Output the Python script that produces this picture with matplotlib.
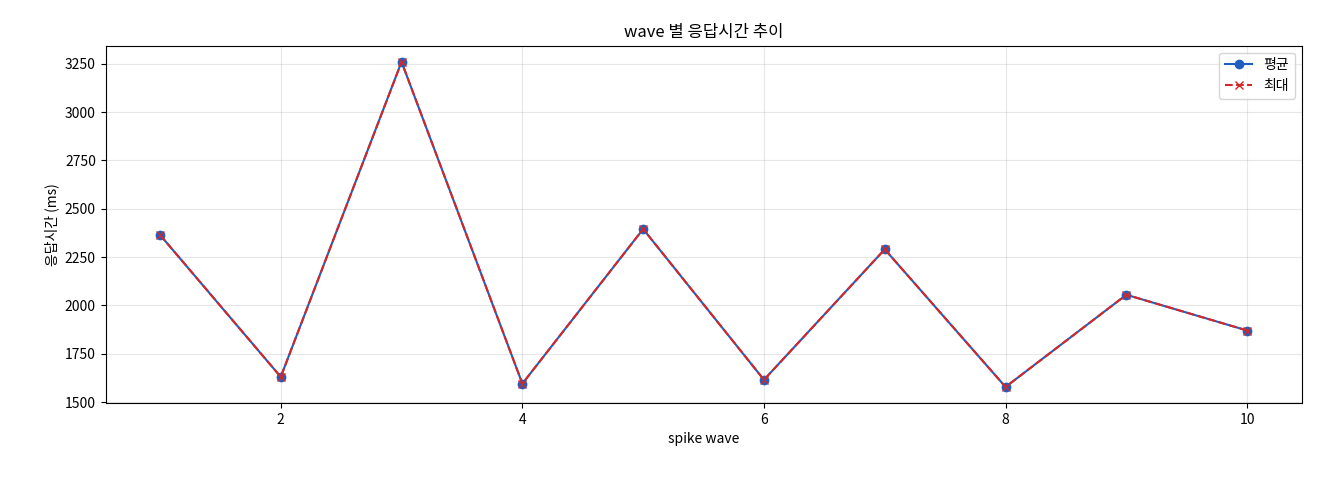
import matplotlib
matplotlib.use("Agg")
import matplotlib.pyplot as plt

plt.rcParams['font.family'] = ['Noto Sans CJK KR', 'DejaVu Sans']

waves = [1, 2, 3, 4, 5, 6, 7, 8, 9, 10]
avg = [2365, 1630, 3260, 1595, 2395, 1615, 2290, 1578, 2055, 1870]
mx = [2365, 1630, 3260, 1595, 2395, 1615, 2290, 1578, 2055, 1870]

fig, ax = plt.subplots(figsize=(13.2, 4.8), dpi=100)
ax.plot(waves, avg, marker='o', color='#1f5fbf', label='평균', markersize=6)
ax.plot(waves, mx, marker='x', linestyle='--', color='#d62728', label='최대', markersize=6)
ax.set_title('wave 별 응답시간 추이')
ax.set_xlabel('spike wave')
ax.set_ylabel('응답시간 (ms)')
ax.grid(True, alpha=0.3)
ax.legend(loc='upper right')
fig.subplots_adjust(left=0.08, right=0.986, top=0.905, bottom=0.16)
fig.savefig('out.png')
